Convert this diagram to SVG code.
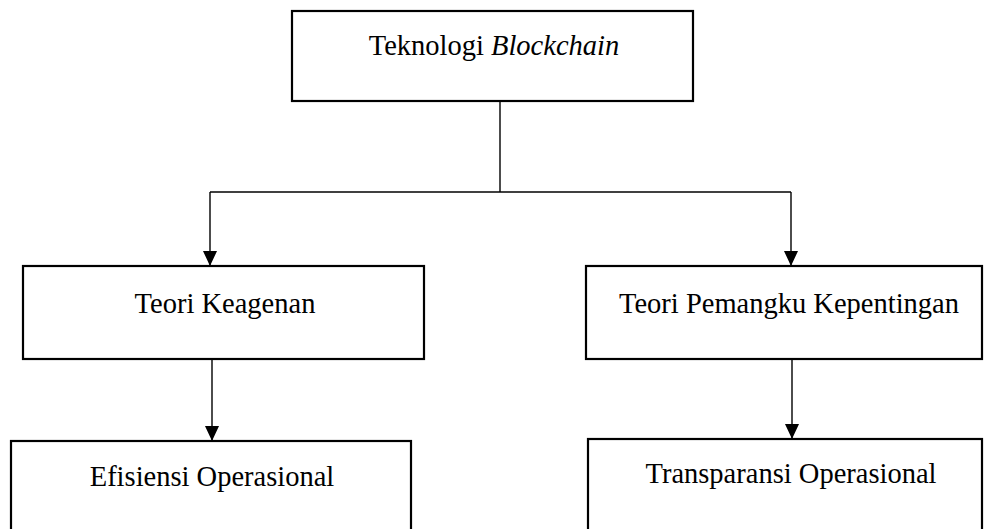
<svg xmlns="http://www.w3.org/2000/svg" width="984" height="529" viewBox="0 0 984 529">
<defs>
<marker id="ah" markerWidth="15" markerHeight="14" refX="15" refY="7" orient="auto" markerUnits="userSpaceOnUse" viewBox="0 0 15 14">
<path d="M0,0 L15,7 L0,14 Z" fill="#000"/>
</marker>
</defs>
<style>
.box{fill:#fff;stroke:#000;stroke-width:2.2}
.lbl{font-family:"Liberation Serif","Times New Roman",serif;font-size:28.5px;fill:#000;text-anchor:middle}
.con{fill:none;stroke:#000;stroke-width:1.4}
</style>
<rect width="984" height="529" fill="#fff"/>
<g id="connectors">
<polyline class="con" points="500,101 500,192"/>
<polyline class="con" points="210,192 791,192"/>
<line class="con" x1="210" y1="192" x2="210" y2="266" marker-end="url(#ah)"/>
<line class="con" x1="791" y1="192" x2="791" y2="266" marker-end="url(#ah)"/>
<line class="con" x1="212" y1="359" x2="212" y2="441" marker-end="url(#ah)"/>
<line class="con" x1="792" y1="359" x2="792" y2="439" marker-end="url(#ah)"/>
</g>
<g id="blockchain">
<rect class="box" x="292" y="11" width="401" height="90"/>
<text class="lbl" x="494" y="55">Teknologi <tspan font-style="italic">Blockchain</tspan></text>
</g>
<g id="keagenan">
<rect class="box" x="23" y="266" width="401" height="93"/>
<text class="lbl" x="225" y="313">Teori Keagenan</text>
</g>
<g id="pemangku">
<rect class="box" x="586" y="266" width="396" height="93"/>
<text class="lbl" x="789" y="313">Teori Pemangku Kepentingan</text>
</g>
<g id="efisiensi">
<rect class="box" x="11" y="441" width="400" height="110"/>
<text class="lbl" x="212" y="486">Efisiensi Operasional</text>
</g>
<g id="transparansi">
<rect class="box" x="588" y="439" width="394" height="110"/>
<text class="lbl" x="791" y="483">Transparansi Operasional</text>
</g>
</svg>
